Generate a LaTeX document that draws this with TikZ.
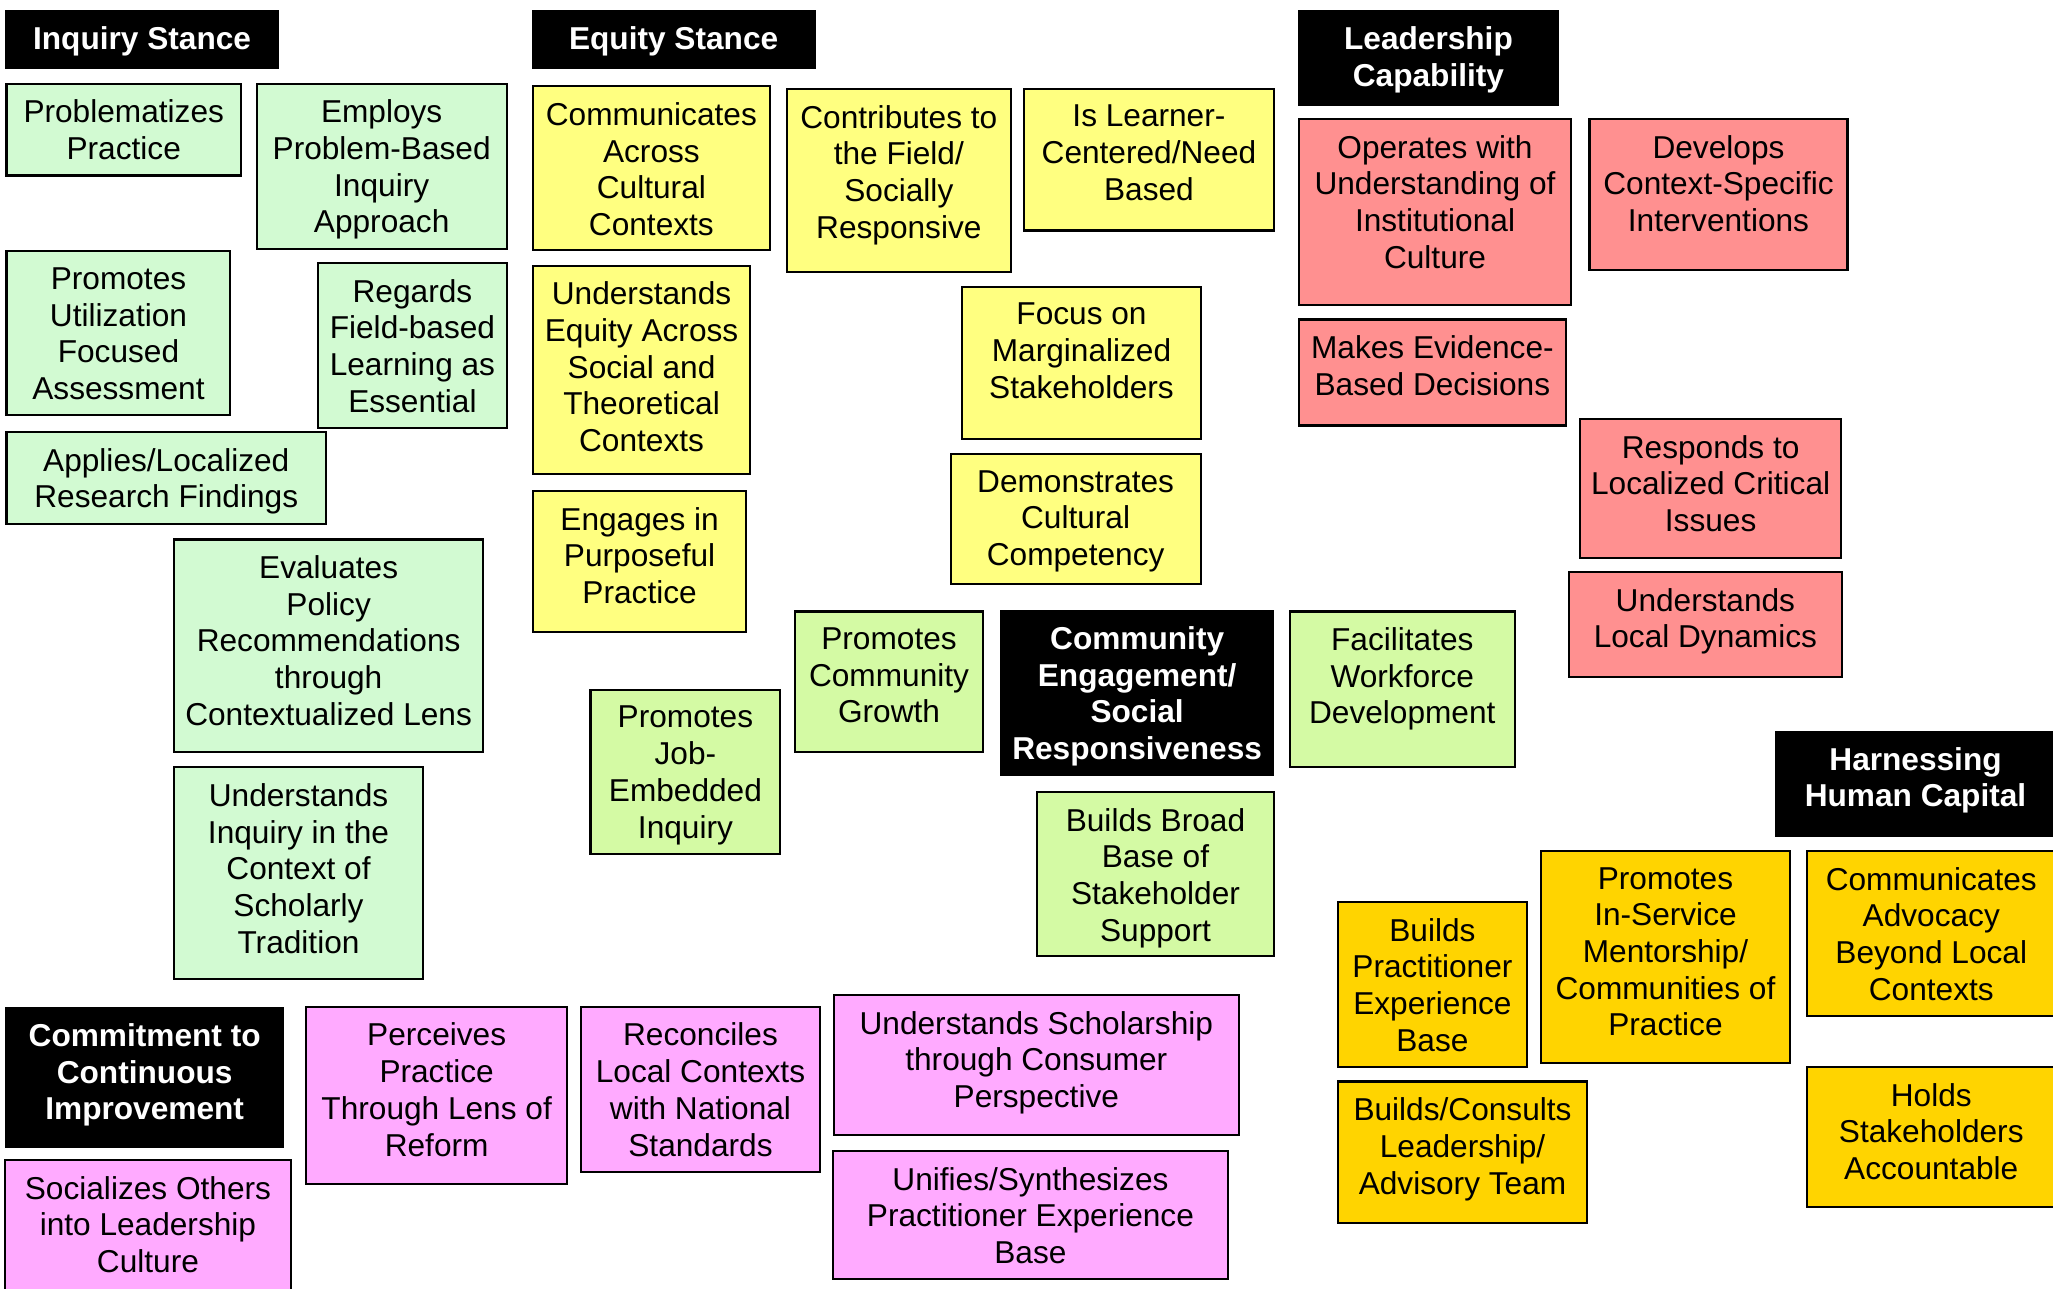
\documentclass[tikz,border=0pt]{standalone}
\usepackage{fontspec}
\setmainfont{Liberation Sans}
\usetikzlibrary{positioning,fit}

\definecolor{inqgreen}{RGB}{210,250,210}
\definecolor{eqyellow}{RGB}{255,255,128}
\definecolor{leadred}{RGB}{255,144,144}
\definecolor{commlime}{RGB}{212,250,164}
\definecolor{capgold}{RGB}{255,212,0}
\definecolor{contpink}{RGB}{255,170,255}

\begin{document}
\begin{tikzpicture}[
        x=0.013093cm, y=-0.013093cm,
        node distance=4.7pt,
        every node/.style={inner sep=0pt},
        cardtext/.style={align=center, font=\fontsize{9}{10.44}\selectfont},
        tagtext/.style={align=center, text=white, font=\fontsize{9}{10.44}\selectfont\bfseries},
        tag/.style={fill=black},
        card/.style={draw=black, line width=0.6pt},
        inquiry/.style={card, fill=inqgreen},
        equity/.style={card, fill=eqyellow},
        leader/.style={card, fill=leadred},
        community/.style={card, fill=commlime},
        capital/.style={card, fill=capgold},
        commit/.style={card, fill=contpink}
      ]
      \useasboundingbox[fill=white] (0,0) rectangle (1568,984);

      % headers
      \node (IS) [tag, fit={(4,8) (213,53)}] {};
      \node (ISt) [tagtext, below=of IS.north] {Inquiry Stance};
      \node (ES) [tag, fit={(406,8) (623,53)}] {};
      \node (ESt) [tagtext, below=of ES.north] {Equity Stance};
      \node (LC) [tag, fit={(991,8) (1191,81)}] {};
      \node (LCt) [tagtext, below=of LC.north] {Leadership\\Capability};
      \node (CE) [tag, fit={(764,466) (973,593)}] {};
      \node (CEt) [tagtext, below=of CE.north] {Community\\Engagement/\\Social\\Responsiveness};
      \node (HC) [tag, fit={(1356,558) (1570,639)}] {};
      \node (HCt) [tagtext, below=of HC.north] {Harnessing\\Human Capital};
      \node (CI) [tag, fit={(4,769) (217,877)}] {};
      \node (CIt) [tagtext, below=of CI.north] {Commitment to\\Continuous\\Improvement};

      % inquiry stance
      \node (PP) [inquiry, fit={(5,64) (184,134)}] {};
      \node (PPt) [cardtext, below=of PP.north] {Problematizes\\Practice};
      \node (EP) [inquiry, fit={(196,64) (387,190)}] {};
      \node (EPt) [cardtext, below=of EP.north] {Employs\\Problem-Based\\Inquiry\\Approach};
      \node (PU) [inquiry, fit={(5,192) (176,317)}] {};
      \node (PUt) [cardtext, below=of PU.north] {Promotes\\Utilization\\Focused\\Assessment};
      \node (RF) [inquiry, fit={(243,201) (387,327)}] {};
      \node (RFt) [cardtext, below=of RF.north] {Regards\\Field-based\\Learning as\\Essential};
      \node (AL) [inquiry, fit={(5,330) (249,400)}] {};
      \node (ALt) [cardtext, below=of AL.north] {Applies/Localized\\Research Findings};
      \node (EV) [inquiry, fit={(133,412) (369,574)}] {};
      \node (EVt) [cardtext, below=of EV.north] {Evaluates\\Policy\\Recommendations\\through\\Contextualized Lens};
      \node (UI) [inquiry, fit={(133,586) (323,748)}] {};
      \node (UIt) [cardtext, below=of UI.north] {Understands\\Inquiry in the\\Context of\\Scholarly\\Tradition};

      % equity stance
      \node (CA) [equity, fit={(407,66) (588,191)}] {};
      \node (CAt) [cardtext, below=of CA.north] {Communicates\\Across\\Cultural\\Contexts};
      \node (CF) [equity, fit={(601,68) (772,208)}] {};
      \node (CFt) [cardtext, below=of CF.north] {Contributes to\\the Field/\\Socially\\Responsive};
      \node (IL) [equity, fit={(782,68) (973,176)}] {};
      \node (ILt) [cardtext, below=of IL.north] {Is Learner-\\Centered/Need\\Based};
      \node (UE) [equity, fit={(407,203) (573,362)}] {};
      \node (UEt) [cardtext, below=of UE.north] {Understands\\Equity Across\\Social and\\Theoretical\\Contexts};
      \node (FM) [equity, fit={(735,219) (917,335)}] {};
      \node (FMt) [cardtext, below=of FM.north] {Focus on\\Marginalized\\Stakeholders};
      \node (EG) [equity, fit={(407,375) (570,483)}] {};
      \node (EGt) [cardtext, below=of EG.north] {Engages in\\Purposeful\\Practice};
      \node (DC) [equity, fit={(726,347) (917,446)}] {};
      \node (DCt) [cardtext, below=of DC.north] {Demonstrates\\Cultural\\Competency};

      % leadership capability
      \node (OU) [leader, fit={(992,91) (1200,233)}] {};
      \node (OUt) [cardtext, below=of OU.north] {Operates with\\Understanding of\\Institutional\\Culture};
      \node (DI) [leader, fit={(1214,91) (1411,206)}] {};
      \node (DIt) [cardtext, below=of DI.north] {Develops\\Context-Specific\\Interventions};
      \node (ME) [leader, fit={(992,244) (1196,325)}] {};
      \node (MEt) [cardtext, below=of ME.north] {Makes Evidence-\\Based Decisions};
      \node (RL) [leader, fit={(1207,320) (1406,426)}] {};
      \node (RLt) [cardtext, below=of RL.north] {Responds to\\Localized Critical\\Issues};
      \node (UL) [leader, fit={(1198,437) (1407,517)}] {};
      \node (ULt) [cardtext, below=of UL.north] {Understands\\Local Dynamics};

      % community engagement
      \node (PC) [community, fit={(607,467) (751,574)}] {};
      \node (PCt) [cardtext, below=of PC.north] {Promotes\\Community\\Growth};
      \node (PJ) [community, fit={(451,527) (596,652)}] {};
      \node (PJt) [cardtext, below=of PJ.north] {Promotes\\Job-\\Embedded\\Inquiry};
      \node (FW) [community, fit={(985,467) (1157,586)}] {};
      \node (FWt) [cardtext, below=of FW.north] {Facilitates\\Workforce\\Development};
      \node (BB) [community, fit={(792,605) (973,730)}] {};
      \node (BBt) [cardtext, below=of BB.north] {Builds Broad\\Base of\\Stakeholder\\Support};

      % human capital
      \node (BP) [capital, fit={(1022,689) (1166,815)}] {};
      \node (BPt) [cardtext, below=of BP.north] {Builds\\Practitioner\\Experience\\Base};
      \node (PI) [capital, fit={(1177,650) (1367,812)}] {};
      \node (PIt) [cardtext, below=of PI.north] {Promotes\\In-Service\\Mentorship/\\Communities of\\Practice};
      \node (CB) [capital, fit={(1380,650) (1570,776)}] {};
      \node (CBt) [cardtext, below=of CB.north] {Communicates\\Advocacy\\Beyond Local\\Contexts};
      \node (BC) [capital, fit={(1022,826) (1212,934)}] {};
      \node (BCt) [cardtext, below=of BC.north] {Builds/Consults\\Leadership/\\Advisory Team};
      \node (HS) [capital, fit={(1380,815) (1570,922)}] {};
      \node (HSt) [cardtext, below=of HS.north] {Holds\\Stakeholders\\Accountable};

      % continuous improvement
      \node (PR) [commit, fit={(234,769) (433,904)}] {};
      \node (PRt) [cardtext, below=of PR.north] {Perceives\\Practice\\Through Lens of\\Reform};
      \node (RC) [commit, fit={(444,769) (626,895)}] {};
      \node (RCt) [cardtext, below=of RC.north] {Reconciles\\Local Contexts\\with National\\Standards};
      \node (US) [commit, fit={(637,760) (946,867)}] {};
      \node (USt) [cardtext, below=of US.north] {Understands Scholarship\\through Consumer\\Perspective};
      \node (UN) [commit, fit={(636,879) (938,977)}] {};
      \node (UNt) [cardtext, below=of UN.north] {Unifies/Synthesizes\\Practitioner Experience\\Base};
      \node (SO) [commit, fit={(4,886) (222,987)}] {};
      \node (SOt) [cardtext, below=of SO.north] {Socializes Others\\into Leadership\\Culture};

    \end{tikzpicture}
\end{document}
